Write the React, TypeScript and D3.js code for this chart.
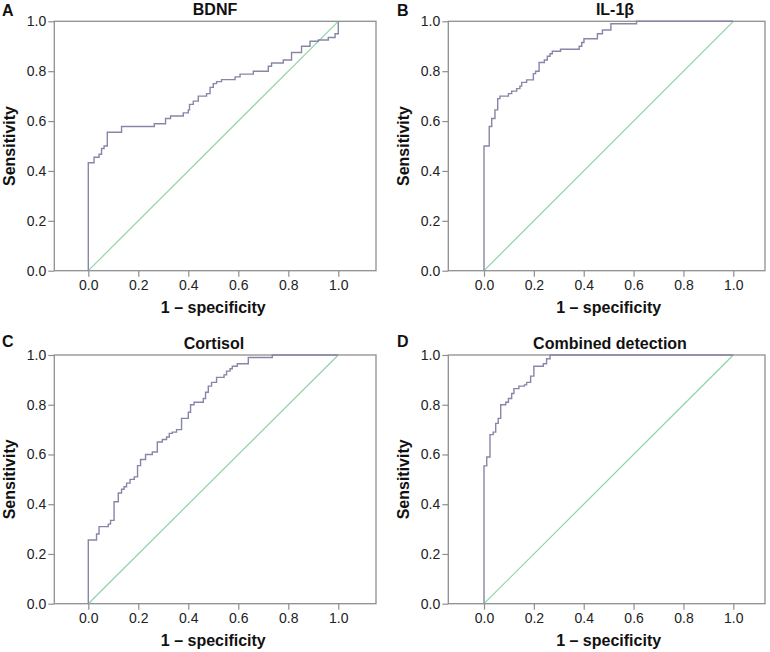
import React, { useEffect, useRef } from "react";
import * as d3 from "d3";

// ---- Data (ROC step points: 1 - specificity, sensitivity) ----
const bdnfFpr = [0, 0, 0.023, 0.043, 0.053, 0.063, 0.076, 0.133, 0.264, 0.309, 0.329, 0.38, 0.4, 0.405, 0.42, 0.44, 0.473, 0.487, 0.5, 0.513, 0.533, 0.587, 0.607, 0.66, 0.72, 0.733, 0.78, 0.813, 0.853, 0.887, 0.92, 0.96, 0.987, 1.0, 1.0];
const bdnfTpr = [0, 0.433, 0.455, 0.467, 0.49, 0.5, 0.555, 0.578, 0.589, 0.61, 0.62, 0.633, 0.645, 0.667, 0.68, 0.7, 0.71, 0.735, 0.75, 0.758, 0.766, 0.777, 0.788, 0.8, 0.82, 0.833, 0.845, 0.875, 0.9, 0.92, 0.925, 0.935, 0.95, 0.96, 1.0];

const il1bFpr = [0, 0, 0.021, 0.031, 0.044, 0.055, 0.064, 0.098, 0.111, 0.131, 0.144, 0.151, 0.171, 0.198, 0.207, 0.221, 0.242, 0.254, 0.265, 0.274, 0.307, 0.382, 0.392, 0.401, 0.455, 0.475, 0.509, 0.612, 1.0];
const il1bTpr = [0, 0.5, 0.578, 0.61, 0.645, 0.69, 0.7, 0.71, 0.72, 0.73, 0.74, 0.755, 0.765, 0.79, 0.8, 0.835, 0.845, 0.86, 0.87, 0.88, 0.888, 0.9, 0.915, 0.93, 0.95, 0.965, 0.99, 1.0, 1.0];

const cortisolFpr = [0, 0, 0.033, 0.043, 0.08, 0.089, 0.103, 0.12, 0.133, 0.143, 0.153, 0.167, 0.184, 0.197, 0.209, 0.229, 0.256, 0.276, 0.296, 0.313, 0.324, 0.336, 0.353, 0.373, 0.4, 0.409, 0.423, 0.46, 0.469, 0.48, 0.493, 0.513, 0.543, 0.553, 0.567, 0.576, 0.596, 0.64, 0.736, 1.0];
const cortisolTpr = [0, 0.256, 0.28, 0.31, 0.32, 0.335, 0.41, 0.445, 0.46, 0.47, 0.485, 0.5, 0.51, 0.555, 0.58, 0.6, 0.61, 0.65, 0.66, 0.67, 0.685, 0.69, 0.7, 0.745, 0.77, 0.8, 0.81, 0.825, 0.85, 0.875, 0.89, 0.91, 0.92, 0.935, 0.945, 0.955, 0.965, 0.99, 1.0, 1.0];

const combinedFpr = [0, 0, 0.011, 0.024, 0.037, 0.047, 0.057, 0.067, 0.087, 0.098, 0.111, 0.12, 0.14, 0.162, 0.171, 0.187, 0.2, 0.238, 0.251, 0.265, 1.0];
const combinedTpr = [0, 0.554, 0.59, 0.68, 0.69, 0.725, 0.745, 0.8, 0.81, 0.825, 0.845, 0.865, 0.875, 0.88, 0.89, 0.915, 0.955, 0.965, 0.985, 1.0, 1.0];

const tickValues = [0, 0.2, 0.4, 0.6, 0.8, 1.0];
const panelLetters = ["A", "B", "C", "D"];
const panelTitles = ["BDNF", "IL-1β", "Cortisol", "Combined detection"];
const xAxisTitle = "1 – specificity";
const yAxisTitle = "Sensitivity";

const seriesFpr = [bdnfFpr, il1bFpr, cortisolFpr, combinedFpr];
const seriesTpr = [bdnfTpr, il1bTpr, cortisolTpr, combinedTpr];

// ---- Layout (pixels) ----
const layouts = [
  { L: 54.3, X0: 88.3, X1: 338.3, R: 376, T: 21.3, B: 270.7, titleX: 215, letterX: 2, letterY: 15.5, ylabX: 15 },
  { L: 448.3, X0: 484, X1: 733.3, R: 765, T: 21.3, B: 270.7, titleX: 615, letterX: 397, letterY: 15.5, ylabX: 409 },
  { L: 54.3, X0: 88.3, X1: 338.3, R: 376, T: 355, B: 603.7, titleX: 214, letterX: 2, letterY: 347, ylabX: 15 },
  { L: 448.3, X0: 484, X1: 733.3, R: 765, T: 355, B: 603.7, titleX: 610, letterX: 397, letterY: 347, ylabX: 409 },
];

const FONT = "'Liberation Sans', Arial, Helvetica, sans-serif";
const FRAME = "#8f8f8f";
const CURVE = "#8686a8";
const DIAG = "#8fd3a5";

export default function App() {
  const ref = useRef<SVGSVGElement | null>(null);

  useEffect(() => {
    const svg = d3.select(ref.current);
    svg.selectAll("*").remove();

    layouts.forEach((lay, i) => {
      const g = svg.append("g");
      const x = d3.scaleLinear().domain([0, 1]).range([lay.X0, lay.X1]);
      const y = d3.scaleLinear().domain([0, 1]).range([lay.B, lay.T]);

      // Frame
      g.append("rect")
        .attr("x", lay.L)
        .attr("y", lay.T)
        .attr("width", lay.R - lay.L)
        .attr("height", lay.B - lay.T)
        .attr("fill", "white")
        .attr("stroke", FRAME)
        .attr("stroke-width", 1.3);

      // Axes
      const yAxis = d3.axisLeft(y).tickValues(tickValues).tickSize(6).tickPadding(2).tickFormat(d3.format(".1f"));
      const yg = g.append("g").attr("transform", `translate(${lay.L},0)`).call(yAxis);
      const xAxis = d3.axisBottom(x).tickValues(tickValues).tickSize(6).tickPadding(3).tickFormat(d3.format(".1f"));
      const xg = g.append("g").attr("transform", `translate(0,${lay.B})`).call(xAxis);
      [yg, xg].forEach((ag) => {
        ag.select(".domain").remove();
        ag.selectAll(".tick line").attr("stroke", FRAME).attr("stroke-width", 1.2);
        ag.selectAll(".tick text")
          .attr("fill", "#222")
          .attr("font-family", FONT)
          .attr("font-size", 14);
      });

      // Diagonal reference line
      g.append("line")
        .attr("x1", x(0))
        .attr("y1", y(0))
        .attr("x2", x(1))
        .attr("y2", y(1))
        .attr("stroke", DIAG)
        .attr("stroke-width", 1.2);

      // ROC curve
      const pts: [number, number][] = seriesFpr[i].map((f, k) => [f, seriesTpr[i][k]]);
      const line = d3
        .line<[number, number]>()
        .x((d) => x(d[0]))
        .y((d) => y(d[1]))
        .curve(d3.curveStepAfter);
      g.append("path")
        .attr("d", line(pts))
        .attr("fill", "none")
        .attr("stroke", CURVE)
        .attr("stroke-width", 1.4);

      // Titles
      g.append("text")
        .attr("x", lay.titleX)
        .attr("y", lay.T - 6.5)
        .attr("text-anchor", "middle")
        .attr("font-family", FONT)
        .attr("font-weight", "bold")
        .attr("font-size", 16)
        .attr("fill", "#111")
        .text(panelTitles[i]);

      g.append("text")
        .attr("x", lay.letterX)
        .attr("y", lay.letterY)
        .attr("font-family", FONT)
        .attr("font-weight", "bold")
        .attr("font-size", 16)
        .attr("fill", "#111")
        .text(panelLetters[i]);

      g.append("text")
        .attr("x", (lay.X0 + lay.X1) / 2)
        .attr("y", lay.B + 42.6)
        .attr("text-anchor", "middle")
        .attr("font-family", FONT)
        .attr("font-weight", "bold")
        .attr("font-size", 16)
        .attr("fill", "#111")
        .text(xAxisTitle);

      g.append("text")
        .attr("transform", `translate(${lay.ylabX},${(lay.T + lay.B) / 2}) rotate(-90)`)
        .attr("text-anchor", "middle")
        .attr("font-family", FONT)
        .attr("font-weight", "bold")
        .attr("font-size", 16)
        .attr("fill", "#111")
        .text(yAxisTitle);
    });
  }, []);

  return (
    <svg
      ref={ref}
      width={770}
      height={652}
      style={{ position: "absolute", left: 0, top: 0, background: "white" }}
    />
  );
}
